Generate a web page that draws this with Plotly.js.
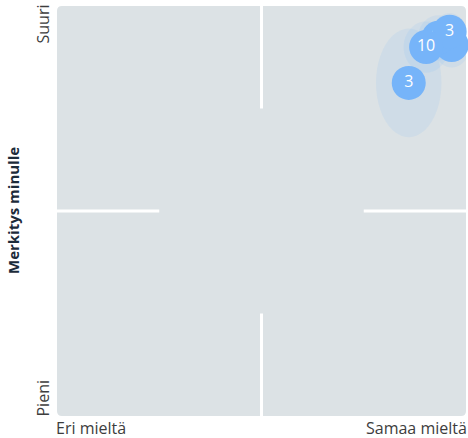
<!DOCTYPE html>
<html><head><meta charset="utf-8">
<script src="https://cdn.plot.ly/plotly-3.0.1.min.js"></script>
<style>html,body{margin:0;padding:0;background:#fff}</style>
</head><body><div id="chart" style="width:468px;height:438px"></div>
<script>
// Data (likert scale 1..5)
const labels = ["", "10", "3", "10", "3"];
const xVals  = [4.86, 4.73, 4.84, 4.61, 4.44];
const yVals  = [4.62, 4.69, 4.75, 4.60, 4.25];
const xSd    = [0.18, 0.20, 0.16, 0.22, 0.32];
const ySd    = [0.22, 0.22, 0.18, 0.25, 0.53];
const xTickLabels = ["Eri mieltä", "Samaa mieltä"];
const yTickLabels = ["Pieni", "Suuri"];
const yTitle = "Merkitys minulle";
const axisMin = 1, axisMax = 5, axisMid = 3;

const blue = "#76b4f9";
const font = "Open Sans, Noto Sans, sans-serif";

function ellipsePath(cx, cy, rx, ry) {
  const n = 48; let d = "";
  for (let i = 0; i <= n; i++) {
    const t = 2*Math.PI*i/n;
    d += (i ? "L" : "M") + (cx + rx*Math.cos(t)).toFixed(4) + "," + (cy + ry*Math.sin(t)).toFixed(4);
  }
  return d + "Z";
}

const shapes = [];
// rounded background
const rx = 5/409, ry = 5/410;
shapes.push({type:"path", xref:"paper", yref:"paper", layer:"below", line:{width:0}, fillcolor:"#dce2e5",
  path:`M${rx},0 L${1-rx},0 Q1,0 1,${ry} L1,${1-ry} Q1,1 ${1-rx},1 L${rx},1 Q0,1 0,${1-ry} L0,${ry} Q0,0 ${rx},0 Z`});
// quadrant lines
const q = (axisMax-axisMin)/4;
const lineStyle = {color:"#ffffff", width:3};
[[axisMid,axisMid,axisMax-q,axisMax],[axisMid,axisMid,axisMin,axisMin+q]].forEach(s=>
  shapes.push({type:"line", xref:"x", yref:"y", layer:"below", x0:s[0], x1:s[1], y0:s[2], y1:s[3], line:lineStyle}));
[[axisMin,axisMin+q],[axisMax-q,axisMax]].forEach(s=>
  shapes.push({type:"line", xref:"x", yref:"y", layer:"below", x0:s[0], x1:s[1], y0:axisMid, y1:axisMid, line:lineStyle}));
// spread ellipses
for (let i = 0; i < xVals.length; i++) {
  shapes.push({type:"path", xref:"x", yref:"y", layer:"below", line:{width:0},
    fillcolor:"rgba(116,178,250,0.12)", path: ellipsePath(xVals[i], yVals[i], xSd[i], ySd[i])});
}

const traces = xVals.map((x,i)=>({
  type:"scatter", mode:"markers+text", x:[x], y:[yVals[i]], text:[labels[i]],
  marker:{size:34, color:blue, line:{width:0}, opacity:1},
  textfont:{color:"#ffffff", size:16, family:font}, textposition:"middle center",
  hoverinfo:"skip", showlegend:false, cliponaxis:false
}));

const tickFont = {family:font, size:16, color:"#3d3d3d"};
const annotations = [
  {xref:"paper", yref:"paper", x:0, y:0, xanchor:"left", yanchor:"top", xshift:-2, yshift:0, borderpad:0, text:xTickLabels[0], showarrow:false, font:tickFont},
  {xref:"paper", yref:"paper", x:1, y:0, xanchor:"right", yanchor:"top", xshift:2, yshift:0, borderpad:0, text:xTickLabels[1], showarrow:false, font:tickFont},
  {xref:"paper", yref:"paper", x:0, y:0, xanchor:"right", yanchor:"bottom", xshift:-3, yshift:-2, borderpad:0, textangle:-90, text:yTickLabels[0], showarrow:false, font:tickFont},
  {xref:"paper", yref:"paper", x:0, y:1, xanchor:"right", yanchor:"top", xshift:-3, yshift:2, borderpad:0, textangle:-90, text:yTickLabels[1], showarrow:false, font:tickFont},
  {xref:"paper", yref:"paper", x:0, y:0.5, xanchor:"center", yanchor:"middle", xshift:-44, textangle:-90, text:"<b>"+yTitle+"</b>", showarrow:false, font:{family:font, size:15, color:"#1c2b3a"}}
];

const layout = {
  width:468, height:438,
  margin:{l:57, r:2, t:6, b:22},
  paper_bgcolor:"#ffffff", plot_bgcolor:"rgba(0,0,0,0)",
  xaxis:{range:[axisMin,axisMax], showgrid:false, zeroline:false, showticklabels:false, ticks:"", fixedrange:true},
  yaxis:{range:[axisMin,axisMax], showgrid:false, zeroline:false, showticklabels:false, ticks:"", fixedrange:true},
  shapes, annotations, showlegend:false
};
Plotly.newPlot("chart", traces, layout, {displayModeBar:false, staticPlot:true});
</script></body></html>
